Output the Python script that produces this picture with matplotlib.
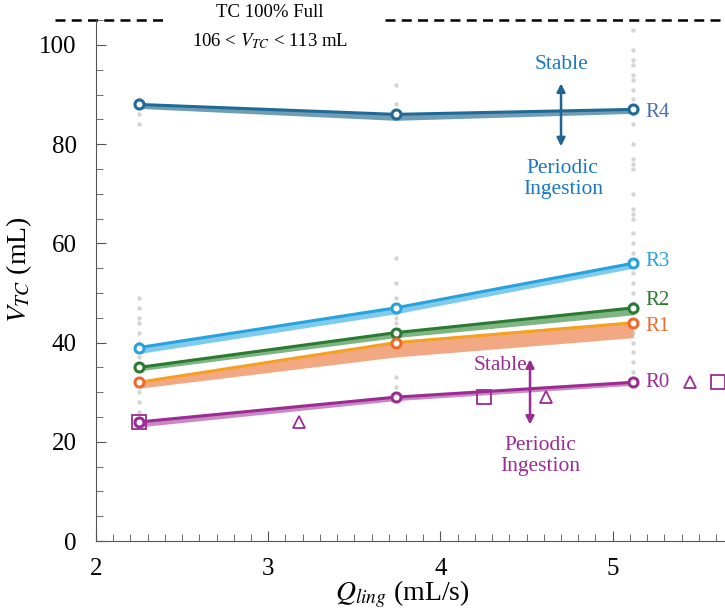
import matplotlib.pyplot as plt
from matplotlib.ticker import MultipleLocator

plt.rcParams['font.family'] = ['Liberation Serif', 'DejaVu Serif']
plt.rcParams['mathtext.fontset'] = 'stix'

# flow rates tested
q_ling = [2.25, 3.74, 5.12]

# mean V_TC per reflux level and lower edge of the band
series = {
    "R4": ([88, 86, 87], [87.2, 84.8, 86.2]),
    "R3": ([39, 47, 56], [37.8, 45.8, 55.0]),
    "R2": ([35, 42, 47], [34.3, 41.0, 45.6]),
    "R1": ([32, 40, 44], [30.8, 37.1, 41.0]),
    "R0": ([24, 29, 32], [23.0, 28.3, 31.4]),
}
label_y = {"R4": 86.4, "R3": 56.3, "R2": 48.4, "R1": 43.2, "R0": 32}
line_col = {"R4": "#1f6a96", "R3": "#27a2dc", "R2": "#2a7a32", "R1": "#f5a020", "R0": "#9c2b93"}
mark_col = {"R4": "#1f6a96", "R3": "#27a2dc", "R2": "#2a7a32", "R1": "#ee6a2c", "R0": "#9c2b93"}
band_col = {"R4": "#6f9db6", "R3": "#7fcbee", "R2": "#7fb483", "R1": "#f2a883", "R0": "#c98ac3"}
label_col = {"R4": "#4a6db3", "R3": "#27a2dc", "R2": "#2a7a32", "R1": "#ee6a2c", "R0": "#9c2b93"}

# individual runs (grey dots)
dots_x1 = [24, 26, 28, 30, 32, 35, 37, 39, 40, 42, 44, 45, 47, 49, 84, 86, 88, 89]
dots_x2 = [29, 31, 33, 40, 42, 44, 45, 46, 47, 49, 52, 57, 86, 88, 92]
dots_x3 = [32, 34, 36, 38, 40, 42, 44, 46, 48, 50, 52, 54, 56, 58, 60, 62, 65, 66, 67, 70,
           75, 76, 77, 80, 84, 86, 89, 91, 93, 94, 96, 97, 99, 103]

# R0 periodic ingestion onset markers
sq_x = [2.25, 4.25, 5.61]
sq_y = [24, 29, 32]
tri_x = [3.18, 4.61, 5.45]
tri_y = [24, 29, 32]

fig = plt.figure(figsize=(7.25, 6.15), dpi=100)
ax = fig.add_axes([0.1324, 0.1203, 0.879, 0.847])

for xv, ys in zip(q_ling, [dots_x1, dots_x2, dots_x3]):
    ax.scatter([xv] * len(ys), ys, s=10, color="#d4d4d4", zorder=1, linewidths=0)

for name, (vals, lower) in series.items():
    ax.fill_between(q_ling, lower, vals, color=band_col[name], linewidth=0, zorder=2)
    ax.plot(q_ling, vals, color=line_col[name], lw=2.2, zorder=3)
    ax.plot(q_ling, vals, "o", ms=6.5, mfc="white", mec=mark_col[name], mew=2.2, zorder=4, ls="none")
    ax.text(5.19, label_y[name], name, color=label_col[name], fontsize=15, va="center", ha="left")

ax.plot(sq_x, sq_y, "s", ms=10, mfc="none", mec="#9c2b93", mew=1.3, clip_on=False, zorder=5)
ax.plot(tri_x, tri_y, "^", ms=9, mfc="none", mec="#9c2b93", mew=1.3, clip_on=False, zorder=5)

# TC full line
ax.plot([1.76, 2.40], [105, 105], ls=(0, (4, 2.5)), color="black", lw=1.8, clip_on=False)
ax.plot([3.68, 5.70], [105, 105], ls=(0, (4, 2.5)), color="black", lw=1.8, clip_on=False)
ax.text(3.01, 106.6, "TC 100% Full", ha="center", va="center", fontsize=13.5)
ax.text(3.01, 100.8, r"106 < $V_{TC}$ < 113 mL", ha="center", va="center", fontsize=13.5)

# stability annotations
ax.annotate("", xy=(4.70, 92.8), xytext=(4.70, 79), arrowprops=dict(arrowstyle="<|-|>", color="#1f6590", lw=1.8, mutation_scale=12))
ax.text(4.70, 96, "Stable", color="#1a78c2", ha="center", va="center", fontsize=15.5)
ax.text(4.71, 72.9, "Periodic\nIngestion", color="#1a78c2", ha="center", va="center", fontsize=15.5, linespacing=1.15)

ax.annotate("", xy=(4.52, 37.2), xytext=(4.52, 22.9), arrowprops=dict(arrowstyle="<|-|>", color="#9c2b93", lw=1.8, mutation_scale=12))
ax.text(4.35, 35.4, "Stable", color="#9c2b93", ha="center", va="center", fontsize=15.5)
ax.text(4.58, 17.2, "Periodic\nIngestion", color="#9c2b93", ha="center", va="center", fontsize=15.5, linespacing=1.15)

ax.set_xlim(2, 5.7)
ax.set_ylim(0, 105)
ax.spines["top"].set_visible(False)
ax.spines["right"].set_visible(False)
ax.spines["left"].set_color("#555555")
ax.spines["bottom"].set_color("#555555")
ax.xaxis.set_major_locator(MultipleLocator(1))
ax.xaxis.set_minor_locator(MultipleLocator(0.1))
ax.yaxis.set_major_locator(MultipleLocator(20))
ax.yaxis.set_minor_locator(MultipleLocator(5))
ax.tick_params(which="both", direction="in", color="#555555", labelsize=18)
ax.tick_params(which="major", length=7)
ax.tick_params(axis="y", which="major", pad=14)
ax.tick_params(axis="x", which="major", pad=12)
ax.tick_params(which="minor", length=5)

ax.set_xlabel(r"$Q_{ling}$ (mL/s)", fontsize=20)
ax.xaxis.set_label_coords(0.48, -0.072)
ax.set_ylabel(r"$V_{TC}$ (mL)", fontsize=20)
ax.yaxis.set_label_coords(-0.097, 0.52)

fig.savefig("out.png", dpi=100)
